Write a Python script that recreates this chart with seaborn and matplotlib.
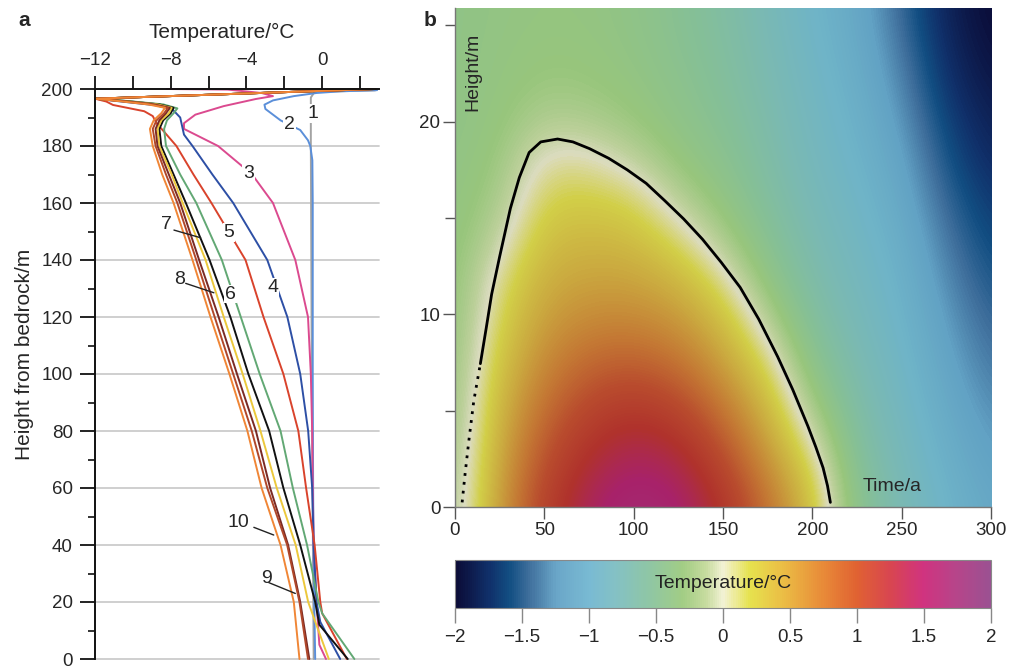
import numpy as np
import pandas as pd
import matplotlib
matplotlib.use("Agg")
import matplotlib.pyplot as plt
import seaborn as sns
from matplotlib.colors import LinearSegmentedColormap, Normalize
from matplotlib.cm import ScalarMappable
from matplotlib.ticker import MultipleLocator

# ---------------- panel a: temperature profiles ----------------
# each profile: heights from bedrock (m) and temperatures (degC)
p1_h = [199.5, 199.0, 197.0, 180, 100, 0]
p1_t = [2.8, -0.4, -0.6, -0.6, -0.55, -0.45]

p2_h = [199.6, 199.2, 198.6, 197.5, 196, 194.5, 193, 191, 189, 185.6, 182, 180, 175, 160, 100, 60, 40, 20, 0]
p2_t = [2.9, 1.0, -0.3, -1.5, -2.6, -3.05, -3.0, -2.6, -2.2, -1.16, -0.75, -0.63, -0.52, -0.5, -0.5, -0.48, -0.46, -0.42, -0.37]

p3_h = [200, 199.8, 198.6, 197.5, 196.5, 194, 191, 188, 186, 182, 180, 170, 160, 140, 120, 100, 80, 60, 40, 20, 10, 5, 0]
p3_t = [-8.2, -5.0, -3.2, -2.6, -3.5, -5.2, -6.7, -7.3, -7.3, -6.1, -5.5, -3.7, -2.6, -1.42, -0.75, -0.6, -0.53, -0.5, -0.45, -0.3, -0.2, -0.15, 0.2]

p4_h = [200, 196.6, 195.6, 194.3, 192.8, 190, 187, 184, 180, 170, 160, 140, 120, 100, 80, 60, 40, 20, 13, 0]
p4_t = [2.8, -12.0, -10.6, -8.8, -7.9, -7.5, -7.4, -7.3, -6.85, -5.8, -4.7, -2.9, -1.84, -1.16, -0.74, -0.53, -0.45, -0.3, -0.1, 0.95]

p5_h = [200, 196.6, 195.6, 194.4, 193.4, 192.2, 190.5, 188, 185, 180, 170, 160, 140, 120, 100, 80, 60, 40, 20, 16, 0]
p5_t = [2.8, -12.0, -11.4, -11.05, -10.3, -9.4, -8.95, -8.75, -8.35, -7.7, -6.8, -5.85, -4.05, -3.1, -2.05, -1.26, -0.85, -0.4, -0.1, 0.0, 1.3]

p6_h = [200, 196.6, 195.8, 194.6, 193.2, 191.5, 189, 186, 180, 170, 160, 140, 120, 100, 80, 60, 40, 20, 16, 0]
p6_t = [2.8, -12.0, -10.3, -8.4, -7.65, -7.85, -8.2, -8.35, -8.25, -7.5, -6.65, -5.3, -4.3, -3.3, -2.2, -1.55, -0.8, -0.2, 0.0, 1.7]

p7_h = [200, 196.6, 195.8, 194.6, 193.4, 191.5, 189, 186, 180, 170, 160, 140, 120, 100, 80, 60, 40, 20, 12, 0]
p7_t = [2.8, -12.0, -10.4, -8.6, -7.85, -8.0, -8.4, -8.6, -8.5, -7.85, -7.2, -5.95, -4.85, -3.9, -2.8, -2.05, -1.16, -0.37, -0.15, 1.35]

py_h = [200, 196.6, 195.8, 194.6, 193.4, 191.5, 189, 186, 180, 170, 160, 140, 120, 100, 80, 60, 40, 20, 10, 0]
py_t = [2.8, -12.0, -10.5, -8.7, -7.95, -8.1, -8.5, -8.7, -8.6, -7.95, -7.37, -6.16, -5.2, -4.2, -3.26, -2.4, -1.4, -0.74, -0.2, 0.35]

p8_h = [200, 196.6, 195.8, 194.6, 193.4, 191.5, 189, 186, 180, 170, 160, 140, 120, 100, 80, 60, 40, 20, 0]
p8_t = [2.8, -12.0, -10.6, -8.9, -8.05, -8.25, -8.6, -8.8, -8.7, -8.1, -7.5, -6.5, -5.47, -4.5, -3.5, -2.75, -1.8, -1.16, -0.68]

p9_h = [200, 196.6, 195.8, 194.6, 193.4, 191.5, 189, 186, 180, 170, 160, 140, 120, 100, 80, 60, 40, 20, 0]
p9_t = [2.8, -12.0, -10.7, -9.0, -8.15, -8.35, -8.75, -8.95, -8.8, -8.25, -7.65, -6.65, -5.68, -4.7, -3.72, -2.9, -1.85, -1.2, -0.75]

p10_h = [200, 196.6, 195.8, 194.6, 193.4, 191.5, 189, 186, 180, 170, 160, 140, 120, 100, 80, 60, 40, 20, 0]
p10_t = [2.8, -12.0, -10.8, -9.2, -8.3, -8.5, -8.9, -9.1, -8.95, -8.45, -7.85, -6.85, -5.9, -4.9, -3.95, -3.2, -2.2, -1.5, -1.2]

profile_names = ["1", "2", "3", "4", "5", "6", "7", "y", "8", "9", "10"]
profile_colors = ["#a3a3a3", "#5b8fd9", "#db4a8f", "#2d4fa5", "#d9432c", "#62a874",
                  "#111111", "#ecc83c", "#7a2a24", "#b0472a", "#f08636"]

# label text, text position (T, h), leader start / end (None = no leader)
label_text = ["1", "2", "3", "4", "5", "6", "7", "8", "10", "9"]
label_pos = [(-0.5, 191.5), (-1.72, 187.4), (-3.9, 170.5), (-2.6, 130.4), (-4.93, 149.7),
             (-4.84, 128.0), (-8.23, 152.3), (-7.56, 133.0), (-4.45, 47.8), (-2.96, 28.3)]
leader_from = [None, None, None, None, None, None, (-7.83, 150.5), (-7.21, 131.8), (-3.61, 46.2), (-2.82, 26.8)]
leader_to = [None, None, None, None, None, None, (-6.42, 147.8), (-5.72, 128.5), (-2.56, 43.5), (-1.42, 23.0)]

# ---------------- panel b: temperature field ----------------
field_time = [0, 25, 50, 75, 100, 125, 150, 175, 200, 225, 250, 275, 300]
field_height = [0, 2, 4, 6, 8, 10, 12, 14, 16, 18, 20, 22, 24, 26]
# rows = heights, columns = times
field_temp = [
    [-0.22, 0.55, 1.10, 1.45, 1.65, 1.55, 1.22, 0.78, 0.32, -0.50, -0.80, -1.00, -1.18],
    [-0.26, 0.50, 1.00, 1.32, 1.50, 1.40, 1.06, 0.63, 0.18, -0.58, -0.84, -1.05, -1.24],
    [-0.29, 0.43, 0.88, 1.16, 1.30, 1.19, 0.87, 0.47, -0.07, -0.66, -0.88, -1.10, -1.30],
    [-0.31, 0.35, 0.75, 0.98, 1.07, 0.96, 0.67, 0.30, -0.32, -0.73, -0.92, -1.16, -1.37],
    [-0.33, 0.26, 0.63, 0.80, 0.84, 0.74, 0.48, 0.08, -0.50, -0.79, -0.96, -1.22, -1.44],
    [-0.35, 0.17, 0.52, 0.63, 0.64, 0.55, 0.30, -0.18, -0.63, -0.84, -1.00, -1.28, -1.51],
    [-0.36, 0.07, 0.42, 0.49, 0.48, 0.36, 0.06, -0.40, -0.72, -0.88, -1.04, -1.35, -1.58],
    [-0.37, -0.10, 0.32, 0.36, 0.33, 0.12, -0.20, -0.53, -0.78, -0.92, -1.09, -1.42, -1.65],
    [-0.38, -0.22, 0.20, 0.22, 0.16, -0.14, -0.37, -0.62, -0.83, -0.96, -1.15, -1.50, -1.72],
    [-0.39, -0.29, 0.06, 0.05, -0.10, -0.32, -0.47, -0.68, -0.87, -1.00, -1.21, -1.58, -1.80],
    [-0.40, -0.33, -0.15, -0.18, -0.28, -0.41, -0.54, -0.72, -0.90, -1.04, -1.28, -1.66, -1.86],
    [-0.40, -0.35, -0.27, -0.29, -0.35, -0.46, -0.59, -0.76, -0.93, -1.08, -1.35, -1.74, -1.92],
    [-0.40, -0.36, -0.32, -0.33, -0.39, -0.50, -0.62, -0.79, -0.96, -1.12, -1.42, -1.80, -1.97],
    [-0.40, -0.37, -0.34, -0.35, -0.41, -0.52, -0.65, -0.82, -0.99, -1.15, -1.48, -1.85, -2.00],
]

# 0 degC isotherm (time / a, height / m)
zero_t = [4.0, 5.5, 7.8, 10.5, 14.2, 17.5, 20.5, 25, 31, 36, 41.5, 48, 57.4, 66, 75.3, 86,
          96.4, 107, 117.4, 128, 138.5, 149, 159.6, 170, 180.6, 189, 197.5, 202, 206, 208.5, 210.1]
zero_h = [0.24, 1.6, 3.48, 5.5, 7.44, 9.3, 11.04, 13.0, 15.5, 17.1, 18.4, 18.95, 19.1, 18.95, 18.6, 18.1,
          17.5, 16.8, 15.9, 14.95, 13.9, 12.7, 11.4, 9.75, 7.8, 6.1, 4.2, 3.1, 2.04, 1.1, 0.24]

cbar_ticks = [-2, -1.5, -1, -0.5, 0, 0.5, 1, 1.5, 2]
cbar_labels = ["\u22122", "\u22121.5", "\u22121", "\u22120.5", "0", "0.5", "1", "1.5", "2"]
cmap_stops = [-2, -1.75, -1.6, -1.45, -1.25, -1.0, -0.8, -0.55, -0.3, -0.12, 0, 0.2, 0.45, 0.75, 1.0, 1.25, 1.5, 1.75, 2.0]
# colours of the colour bar
cmap_colors = ["#0b0b36", "#10306a", "#124e82", "#3f6f9c", "#6aa6c8", "#79bad3", "#84c1c4", "#8fc6a4",
               "#a2cd84", "#c8dca0", "#f3f2d6", "#e6e24e", "#ebbd45", "#e88a38", "#e06232", "#d84650",
               "#d0337f", "#b6458a", "#9b5192"]
# the field image is printed a little darker in the warm part
field_colors = ["#0b0b36", "#10306a", "#124e82", "#3f6f9c", "#62a2c4", "#6fb4c8", "#7ab9b4", "#86c096",
                "#98c67c", "#bcd09a", "#dcdcc0", "#d2cf48", "#cbab40", "#c47834", "#b94c2e", "#b0322c",
                "#a8226a", "#a0307a", "#9b5192"]

# ---------------- style ----------------
sns.set_theme(style="white")
plt.rcParams["font.family"] = ["Liberation Sans", "DejaVu Sans"]
plt.rcParams["axes.unicode_minus"] = True

fig = plt.figure(figsize=(10.11, 6.69), dpi=100)
ax_a = fig.add_axes([95 / 1011, 1 - 659 / 669, 284 / 1011, 570 / 669])
ax_b = fig.add_axes([455 / 1011, 1 - 507 / 669, 536 / 1011, 499 / 669])
cax = fig.add_axes([455 / 1011, 1 - 608 / 669, 536 / 1011, 48 / 669])

# ---------------- panel a ----------------
all_h = [p1_h, p2_h, p3_h, p4_h, p5_h, p6_h, p7_h, py_h, p8_h, p9_h, p10_h]
all_t = [p1_t, p2_t, p3_t, p4_t, p5_t, p6_t, p7_t, py_t, p8_t, p9_t, p10_t]
rows = []
for name, hs, ts in zip(profile_names, all_h, all_t):
    for h, t in zip(hs, ts):
        rows.append({"profile": name, "height": h, "temp": t})
prof_df = pd.DataFrame(rows)

for g in range(0, 200, 20):
    ax_a.axhline(g, color="#cccccc", lw=1.3, zorder=0)

sns.lineplot(data=prof_df, x="temp", y="height", hue="profile", hue_order=profile_names,
             palette=dict(zip(profile_names, profile_colors)), sort=False, estimator=None,
             orient="y", legend=False, lw=1.4, ax=ax_a)
for ln in ax_a.lines:
    ln.set_clip_on(False)

for txt, pos, lf, lt in zip(label_text, label_pos, leader_from, leader_to):
    ax_a.text(pos[0], pos[1], txt, fontsize=14, ha="center", va="center", zorder=5,
              bbox=dict(fc="white", ec="none", pad=0.6))
    if lf is not None:
        ax_a.plot([lf[0], lt[0]], [lf[1], lt[1]], color="#222222", lw=1.0, zorder=6)

ax_a.set_xlim(-12, 3)
ax_a.set_ylim(0, 200)
ax_a.xaxis.tick_top()
ax_a.xaxis.set_label_position("top")
ax_a.set_xticks([-12, -8, -4, 0])
ax_a.set_xticklabels(["\u221212", "\u22128", "\u22124", "0"])
ax_a.xaxis.set_minor_locator(MultipleLocator(2))
ax_a.set_yticks(range(0, 201, 20))
ax_a.yaxis.set_minor_locator(MultipleLocator(10))
ax_a.set_xlabel("Temperature/\u00b0C", fontsize=15)
ax_a.set_ylabel("Height from bedrock/m", fontsize=15)
ax_a.xaxis.set_label_coords(0.447, 1.09)
ax_a.yaxis.set_label_coords(-0.215, 0.535)
for s in ["right", "bottom"]:
    ax_a.spines[s].set_visible(False)
for s in ["left", "top"]:
    ax_a.spines[s].set_color("#111111")
    ax_a.spines[s].set_linewidth(1.4)
ax_a.tick_params(axis="x", which="both", direction="out", length=9.5, width=1.3,
                 color="#111111", labelsize=13.5, pad=5, top=True, bottom=False)
ax_a.tick_params(axis="y", which="major", direction="out", length=11, width=1.3,
                 color="#111111", labelsize=13.5, pad=5, left=True)
ax_a.tick_params(axis="y", which="minor", direction="out", length=5, width=1.2, color="#111111", left=True)
ax_a.grid(False)

# ---------------- panel b ----------------
norm = Normalize(-2, 2)
bar_cmap = LinearSegmentedColormap.from_list(
    "bar", [((v + 2) / 4, c) for v, c in zip(cmap_stops, cmap_colors)])
field_cmap = LinearSegmentedColormap.from_list(
    "field", [((v + 2) / 4, c) for v, c in zip(cmap_stops, field_colors)])

dt = field_time[1] - field_time[0]
dh = field_height[1] - field_height[0]
ax_b.imshow(np.array(field_temp), cmap=field_cmap, norm=norm, origin="lower", aspect="auto",
            interpolation="bicubic",
            extent=[field_time[0] - dt / 2, field_time[-1] + dt / 2,
                    field_height[0] - dh / 2, field_height[-1] + dh / 2])
sns.lineplot(x=zero_t[4:], y=zero_h[4:], sort=False, estimator=None, color="black", lw=2.0, ax=ax_b)
sns.lineplot(x=zero_t[:5], y=zero_h[:5], sort=False, estimator=None, color="black", lw=2.0,
             linestyle=(0, (1, 2.2)), ax=ax_b)

ax_b.set_xlim(0, 300)
ax_b.set_ylim(0, 25.9)
ax_b.set_xticks(range(0, 301, 50))
ax_b.set_yticks([0, 10, 20])
ax_b.yaxis.set_minor_locator(MultipleLocator(5))
for s in ["top", "right"]:
    ax_b.spines[s].set_visible(False)
for s in ["left", "bottom"]:
    ax_b.spines[s].set_color("#777777")
    ax_b.spines[s].set_linewidth(1.0)
ax_b.tick_params(axis="both", which="major", direction="out", length=8.5, width=1.0,
                 color="#555555", labelsize=13.5, pad=2, left=True, bottom=True)
ax_b.tick_params(axis="y", which="minor", direction="out", length=7, width=1.0, color="#555555", left=True)
ax_b.text(10, 22.6, "Height/m", rotation=90, fontsize=14, ha="center", va="center")
ax_b.text(244.5, 1.05, "Time/a", fontsize=14, ha="center", va="center")
ax_b.set_xlabel("")
ax_b.set_ylabel("")
ax_b.grid(False)

# ---------------- colour bar ----------------
cb = fig.colorbar(ScalarMappable(norm=norm, cmap=bar_cmap), cax=cax, orientation="horizontal")
cb.set_ticks(cbar_ticks)
cb.set_ticklabels(cbar_labels)
cb.outline.set_edgecolor("#888888")
cb.outline.set_linewidth(0.8)
cax.tick_params(axis="x", direction="out", length=11, width=1.0, color="#888888", labelsize=13.5, pad=4)
cax.text(0.5, 0.5, "Temperature/\u00b0C", transform=cax.transAxes, fontsize=14,
         ha="center", va="center", color="#222222")

fig.text(18 / 1011, 1 - 20 / 669, "a", fontsize=15, fontweight="bold", ha="left", va="center")
fig.text(424 / 1011, 1 - 20 / 669, "b", fontsize=15, fontweight="bold", ha="left", va="center")

fig.savefig("out.png", dpi=100)
